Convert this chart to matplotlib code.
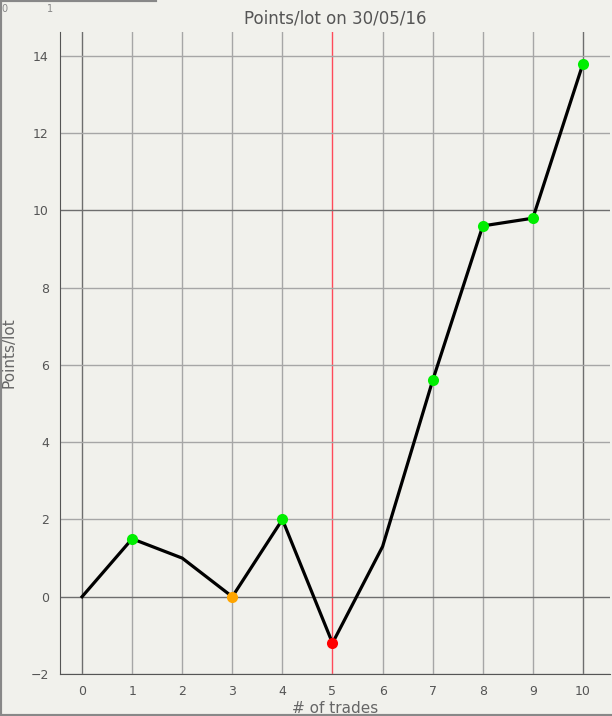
import numpy as np
from matplotlib import pyplot as plt
from matplotlib.lines import Line2D

trades = [0, 1, 2, 3, 4, 5, 6, 7, 8, 9, 10]
points = [0, 1.5, 1.0, 0, 2.0, -1.2, 1.3, 5.6, 9.6, 9.8, 13.8]
dot_colors = [None, '#00ee00', None, '#ffa500', '#00ee00', '#ff0000', None,
              '#00ee00', '#00ee00', '#00ee00', '#00ee00']
bg = '#f1f1ec'

fig = plt.figure(figsize=(6.12, 7.16), dpi=100, facecolor=bg)
ax = fig.add_axes([60/612, 42/716, 550/612, 642/716])
ax.set_facecolor(bg)

ax.set_xlim(-0.44, 10.54)
ax.set_ylim(-2, 14.62)
ax.set_xticks(range(0, 11))
ax.set_yticks(range(-2, 15, 2))

# grid lines, every 5th darker
for x in range(0, 11):
    c = '#6e6e6e' if x % 5 == 0 else '#a6a6a6'
    if x == 5:
        c = '#ff4a5a'
    ax.axvline(x, color=c, lw=1, zorder=1)
for y in range(-2, 15, 2):
    c = '#6e6e6e' if y % 5 == 0 else '#a6a6a6'
    ax.axhline(y, color=c, lw=1, zorder=1)

ax.plot(trades, points, color='black', lw=2.3, zorder=3)
for x, y, c in zip(trades, points, dot_colors):
    if c:
        ax.plot(x, y, 'o', color=c, ms=8, mec='none', zorder=4)

for s in ['top', 'right']:
    ax.spines[s].set_visible(False)
for s in ['left', 'bottom']:
    ax.spines[s].set_color('#555555')
ax.tick_params(length=0, labelsize=9, colors='#555555', pad=8)

ax.set_title('Points/lot on 30/05/16', fontsize=12, color='#555555', pad=6)
ax.set_xlabel('# of trades', fontsize=11, color='#666666', labelpad=2)
ax.set_ylabel('Points/lot', fontsize=11, color='#666666', labelpad=10)

# outer frame bits
fig.add_artist(Line2D([0, 0], [0, 1], transform=fig.transFigure, color='#888888', lw=3))
fig.add_artist(Line2D([0, 155/612], [1, 1], transform=fig.transFigure, color='#888888', lw=3))
fig.add_artist(Line2D([0, 1], [0, 0], transform=fig.transFigure, color='#888888', lw=3))
fig.text(1/612, 1 - 9/716, '0', fontsize=7, color='#888888', va='center', ha='left')
fig.text(50/612, 1 - 9/716, '1', fontsize=7, color='#888888', va='center', ha='center')

plt.savefig('out.png', dpi=100, facecolor=bg)
